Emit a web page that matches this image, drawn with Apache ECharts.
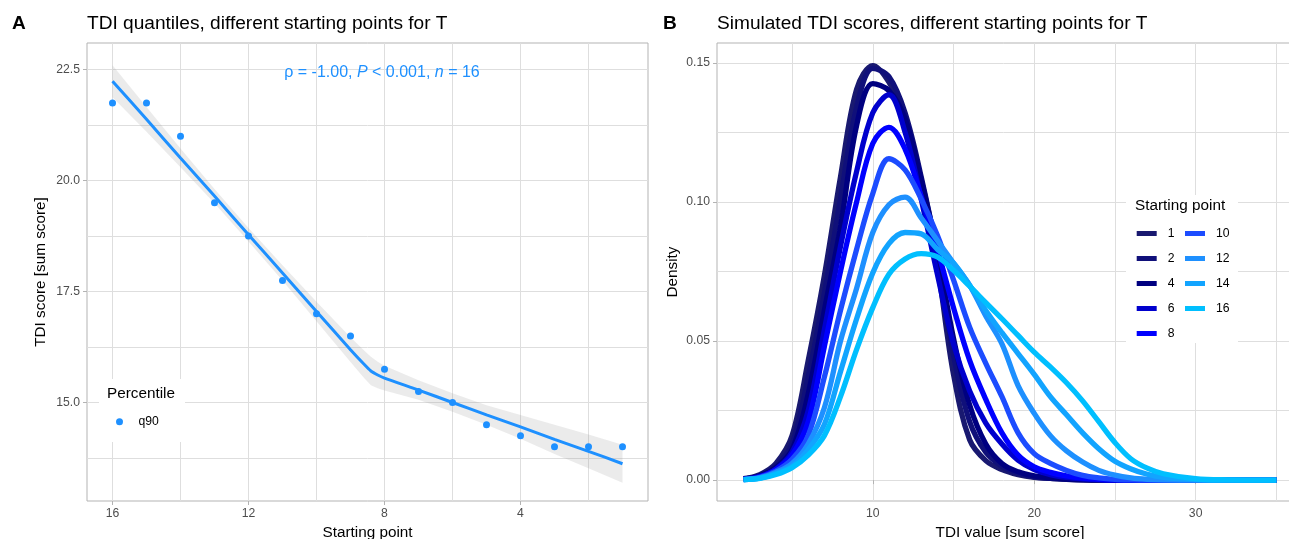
<!DOCTYPE html>
<html>
<head>
<meta charset="utf-8">
<script src="https://cdn.jsdelivr.net/npm/echarts@6/dist/echarts.min.js"></script>
<style>html,body{margin:0;padding:0;background:#fff}#c{width:1289px;height:539px}</style>
</head>
<body>
<div id="c"></div>
<script>
// ---------- Panel A data ----------
const startingPoints = [16,15,14,13,12,11,10,9,8,7,6,5,4,3,2,1];
const q90Values = [21.75,21.75,21.0,19.5,18.75,17.75,17.0,16.5,15.75,15.25,15.0,14.5,14.25,14.0,14.0,14.0];
const fitX     = [16,15,14,13,12,11,10,9,8.6,8.4,8.2,8,7,6,5,4,3,2,1];
const fitY     = [22.24,21.38,20.51,19.65,18.78,17.92,17.05,16.19,15.86,15.71,15.62,15.55,15.28,15.00,14.72,14.45,14.17,13.90,13.62];
const fitLower = [21.88,21.10,20.30,19.49,18.63,17.75,16.83,15.91,15.55,15.39,15.32,15.27,15.06,14.79,14.50,14.18,13.84,13.52,13.19];
const fitUpper = [22.60,21.66,20.72,19.81,18.93,18.09,17.27,16.47,16.17,16.03,15.92,15.83,15.50,15.21,14.94,14.72,14.50,14.28,14.05];
const xTicksA = [4,8,12,16];
const xMinorA = [2,6,10,14];
const yTicksA = [15,17.5,20,22.5];
const yMinorA = [13.75,16.25,18.75,21.25];

// ---------- Panel B data ----------
const tdiX = [2,3,4,5,6,7,8,9,10,11,12,13,14,15,16,17,18,19,20,21,22,23,24,25,26,27,28,30,32,35];
const startNames = ['1','2','4','6','8','10','12','14','16'];
const dens1  = [0.0005,0.002,0.006,0.016,0.043,0.0735,0.109,0.1405,0.149,0.143,0.130,0.106,0.077,0.038,0.0145,0.007,0.0038,0.002,0.001,0.0006,0.0003,0.0001,0,0,0,0,0,0,0,0];
const dens2  = [0.0004,0.0017,0.005,0.013,0.037,0.067,0.101,0.134,0.148,0.145,0.132,0.109,0.081,0.045,0.021,0.010,0.005,0.0025,0.0012,0.0006,0.0003,0.0001,0,0,0,0,0,0,0,0];
const dens4  = [0.0004,0.0015,0.0045,0.011,0.031,0.061,0.091,0.1275,0.1425,0.140,0.130,0.108,0.082,0.051,0.027,0.013,0.006,0.003,0.0015,0.0008,0.0004,0.0002,0.0001,0,0,0,0,0,0,0];
const dens6  = [0.0003,0.0013,0.004,0.010,0.025,0.054,0.084,0.111,0.132,0.1385,0.125,0.101,0.074,0.049,0.032,0.0205,0.013,0.0072,0.0038,0.002,0.001,0.0005,0.0002,0,0,0,0,0,0,0];
const dens8  = [0.0003,0.0012,0.0038,0.009,0.021,0.048,0.075,0.100,0.121,0.1268,0.119,0.102,0.083,0.062,0.043,0.029,0.017,0.009,0.0048,0.0028,0.0015,0.0007,0.0003,0.0001,0,0,0,0,0,0];
const dens10 = [0.0002,0.001,0.0033,0.0075,0.016,0.037,0.061,0.083,0.103,0.1155,0.1115,0.101,0.088,0.072,0.055,0.042,0.030,0.017,0.0095,0.006,0.0035,0.0017,0.0008,0.0003,0.0001,0,0,0,0,0];
const dens12 = [0.0002,0.0008,0.0028,0.006,0.013,0.026,0.050,0.069,0.089,0.099,0.1017,0.0942,0.0861,0.078,0.070,0.059,0.049,0.034,0.024,0.016,0.0105,0.0065,0.0035,0.0018,0.0008,0.0003,0.0001,0,0,0];
const dens14 = [0.0002,0.0007,0.0024,0.005,0.011,0.020,0.039,0.058,0.0745,0.085,0.089,0.0885,0.083,0.078,0.070,0.061,0.053,0.0455,0.038,0.030,0.0235,0.017,0.0113,0.0068,0.004,0.0021,0.001,0.0002,0,0];
const dens16 = [0.0002,0.0006,0.002,0.0045,0.009,0.016,0.030,0.047,0.062,0.074,0.0795,0.0814,0.0802,0.0754,0.0697,0.0638,0.058,0.052,0.046,0.0407,0.035,0.0285,0.021,0.0135,0.0076,0.0043,0.0023,0.0005,0.0001,0];
const densities = [dens1,dens2,dens4,dens6,dens8,dens10,dens12,dens14,dens16];
const xTicksB = [10,20,30];
const xMinorB = [5,15,25,35];
const yTicksB = [0,0.05,0.10,0.15];
const yMinorB = [0.025,0.075,0.125];

// ---------- styles ----------
const palette = ['#191970','#10107A','#000080','#0000CD','#0000FF','#1C4CFF','#1E90FF','#12A4FF','#00BFFF'];
const FONT = '"Liberation Sans", Arial, Helvetica, sans-serif';
const GRIDC = '#DEDEDE';
const BORDER = '#B3B3B3';
const TICKFS = 12.2, TITLEFS = 15.3, HEADFS = 19.1;

function majorAxis(gridIndex, min, max, ticks, fmt, extra) {
  return Object.assign({
    type: 'value', gridIndex, min, max,
    axisLine: {show: false},
    axisTick: {show: true, length: 4, lineStyle: {color: BORDER, width: 1}, customValues: ticks},
    axisLabel: {show: true, customValues: ticks, color: '#4D4D4D', fontSize: TICKFS, fontFamily: FONT, margin: 7, formatter: fmt},
    splitLine: {show: true, lineStyle: {color: GRIDC, width: 1}},
    minorSplitLine: {show: false},
    nameLocation: 'middle',
    nameTextStyle: {fontSize: TITLEFS, color: '#000', fontFamily: FONT}
  }, extra || {});
}
function minorAxis(gridIndex, min, max, ticks, extra) {
  return Object.assign({
    type: 'value', gridIndex, min, max,
    axisLine: {show: false},
    axisTick: {show: false, customValues: ticks},
    axisLabel: {show: false, customValues: ticks},
    splitLine: {show: true, lineStyle: {color: GRIDC, width: 1}}
  }, extra || {});
}

const chart = echarts.init(document.getElementById('c'), null, {renderer: 'canvas'});

const densitySeries = densities.map((d, k) => ({
  name: startNames[k], type: 'line', xAxisIndex: 2, yAxisIndex: 2,
  data: tdiX.map((x, i) => [x, d[i]]),
  showSymbol: false, smooth: 0.35, color: palette[k],
  lineStyle: {width: 5.3, color: palette[k], opacity: 1}, z: 3 + k, silent: true, animation: false
}));

const option = {
  animation: false,
  backgroundColor: '#fff',
  title: [
    {text: 'A', left: 12, top: 14, padding: 0, textStyle: {fontFamily: FONT, fontSize: HEADFS, fontWeight: 'bold', color: '#000'}},
    {text: 'TDI quantiles, different starting points for T', left: 87, top: 14, padding: 0, textStyle: {fontFamily: FONT, fontSize: HEADFS, fontWeight: 'normal', color: '#000'}},
    {text: 'B', left: 663, top: 14, padding: 0, textStyle: {fontFamily: FONT, fontSize: HEADFS, fontWeight: 'bold', color: '#000'}},
    {text: 'Simulated TDI scores, different starting points for T', left: 717, top: 14, padding: 0, textStyle: {fontFamily: FONT, fontSize: HEADFS, fontWeight: 'normal', color: '#000'}}
  ],
  grid: [
    {left: 87, top: 43, width: 561, height: 458, show: true, borderColor: BORDER, borderWidth: 1, backgroundColor: 'transparent', containLabel: false, outerBoundsMode: 'none'},
    {left: 717, top: 43, width: 586, height: 458, show: true, borderColor: BORDER, borderWidth: 1, backgroundColor: 'transparent', containLabel: false, outerBoundsMode: 'none'}
  ],
  xAxis: [
    majorAxis(0, 0.25, 16.75, xTicksA, v => String(v), {inverse: true, name: 'Starting point', nameGap: 21}),
    minorAxis(0, 0.25, 16.75, xMinorA, {inverse: true}),
    majorAxis(1, 0.35, 36.65, xTicksB, v => String(v), {name: 'TDI value [sum score]', nameGap: 21}),
    minorAxis(1, 0.35, 36.65, xMinorB)
  ],
  yAxis: [
    majorAxis(0, 12.78, 23.1, yTicksA, v => v.toFixed(1), {name: 'TDI score [sum score]', nameGap: 39}),
    minorAxis(0, 12.78, 23.1, yMinorA),
    majorAxis(1, -0.0075, 0.1571, yTicksB, v => v.toFixed(2), {name: 'Density', nameGap: 37}),
    minorAxis(1, -0.0075, 0.1571, yMinorB)
  ],
  legend: [
    {data: ['q90'], left: 116, top: 414.7, orient: 'vertical', icon: 'circle', itemWidth: 17, itemHeight: 7, z: 10,
     selectedMode: false, padding: 0,
     itemStyle: {opacity: 1},
     textStyle: {fontFamily: FONT, fontSize: TICKFS, color: '#000', lineHeight: 14, padding: [0,0,0,5.5]}},
    {data: ['1','2','4','6','8'], left: 1136.7, top: 226.5, orient: 'vertical', icon: 'rect', itemWidth: 20, itemHeight: 5, itemGap: 11, z: 10,
     selectedMode: false, padding: 0,
     textStyle: {fontFamily: FONT, fontSize: TICKFS, color: '#000', lineHeight: 14, padding: [0,0,0,6]}},
    {data: ['10','12','14','16'], left: 1185, top: 226.5, orient: 'vertical', icon: 'rect', itemWidth: 20, itemHeight: 5, itemGap: 11, z: 10,
     selectedMode: false, padding: 0,
     textStyle: {fontFamily: FONT, fontSize: TICKFS, color: '#000', lineHeight: 14, padding: [0,0,0,6]}}
  ],
  graphic: [
    {type: 'rect', shape: {x: 99, y: 379, width: 86, height: 63}, style: {fill: '#fff'}, z: 6, silent: true},
    {type: 'text', x: 107, y: 393.5, z: 11, silent: true,
     style: {text: 'Percentile', font: `${TITLEFS}px ${FONT}`, fill: '#000', align: 'left', verticalAlign: 'middle'}},
    {type: 'rect', shape: {x: 1126, y: 195, width: 112, height: 148}, style: {fill: '#fff'}, z: 6, silent: true},
    {type: 'text', x: 1135, y: 206, z: 11, silent: true,
     style: {text: 'Starting point', font: `${TITLEFS}px ${FONT}`, fill: '#000', align: 'left', verticalAlign: 'middle'}},
    {type: 'text', x: 382, y: 73, z: 11, silent: true,
     style: {text: '{r|\u03C1 = -1.00, }{i|P}{r| < 0.001, }{i|n}{r| = 16}', align: 'center', verticalAlign: 'middle',
       rich: {r: {fontSize: 16, fontFamily: FONT, fill: '#1E90FF'}, i: {fontSize: 16, fontFamily: FONT, fontStyle: 'italic', fill: '#1E90FF'}}}}
  ],
  series: [
    {name: 'band', type: 'custom', xAxisIndex: 0, yAxisIndex: 0, silent: true, z: 1,
     data: [[fitX[0], fitY[0]]],
     renderItem: function (params, api) {
       const pts = [];
       for (let i = 0; i < fitX.length; i++) pts.push(api.coord([fitX[i], fitUpper[i]]));
       for (let i = fitX.length - 1; i >= 0; i--) pts.push(api.coord([fitX[i], fitLower[i]]));
       return {type: 'polygon', shape: {points: pts}, style: {fill: 'rgba(153,153,153,0.2)'}};
     }},
    {name: 'fit', type: 'line', xAxisIndex: 0, yAxisIndex: 0, data: fitX.map((x, i) => [x, fitY[i]]),
     showSymbol: false, smooth: 0.2, lineStyle: {width: 3, color: '#1E90FF'}, color: '#1E90FF', z: 3, silent: true},
    {name: 'q90', type: 'scatter', xAxisIndex: 0, yAxisIndex: 0, data: startingPoints.map((x, i) => [x, q90Values[i]]),
     symbolSize: 7, color: '#1E90FF', itemStyle: {color: '#1E90FF', opacity: 1}, z: 4, silent: true}
  ].concat(densitySeries)
};
chart.setOption(option);
</script>
</body>
</html>
